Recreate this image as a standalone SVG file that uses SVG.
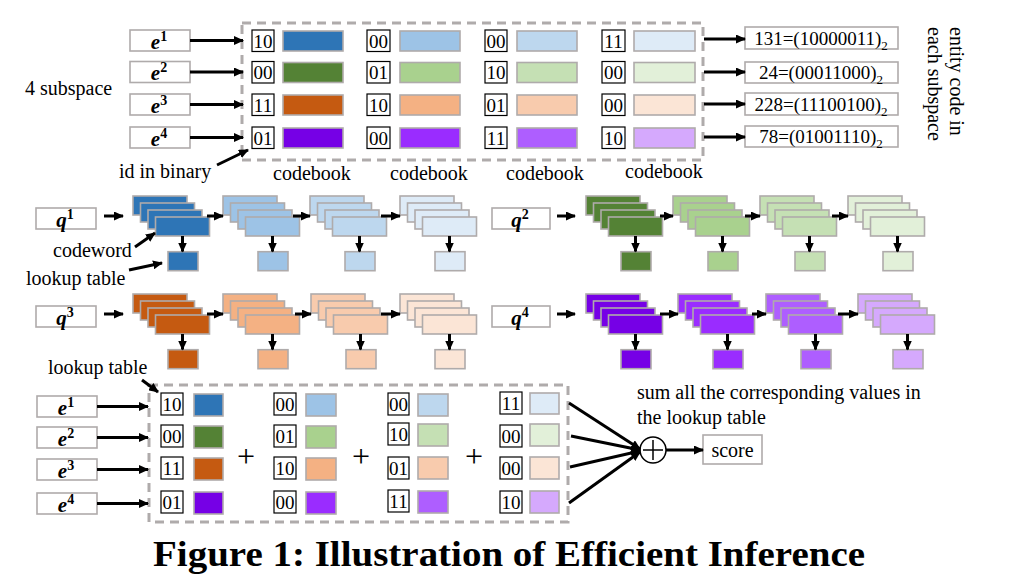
<svg xmlns="http://www.w3.org/2000/svg" xmlns:xlink="http://www.w3.org/1999/xlink" width="1021" height="574" viewBox="0 0 1021 574">
<style>
.t{font-family:"Liberation Serif",serif;font-size:20px;fill:#000}
.n{font-family:"Liberation Serif",serif;font-size:19px;fill:#000;text-anchor:middle}
.plus{font-family:"Liberation Serif",serif;font-size:32px;fill:#000;text-anchor:middle}
.v{font-family:"Liberation Serif",serif;font-weight:bold;font-style:italic;font-size:21px;fill:#000;text-anchor:middle}
.box{fill:#fff;stroke:#AFABAB;stroke-width:1.6}
.id{fill:#fff;stroke:#000;stroke-width:1.2}
.cell{stroke:#AFABAB;stroke-width:1.6}
.dash{fill:none;stroke:#AFABAB;stroke-width:3;stroke-dasharray:9 6}
.arr{stroke:#000;stroke-width:3;fill:none;marker-end:url(#ah)}
.b1{fill:#2E75B6}.b2{fill:#9DC3E6}.b3{fill:#BDD7EE}.b4{fill:#DEEBF7}
.g1{fill:#548235}.g2{fill:#A9D18E}.g3{fill:#C5E0B4}.g4{fill:#E2F0D9}
.o1{fill:#C55A11}.o2{fill:#F4B183}.o3{fill:#F8CBAD}.o4{fill:#FBE5D6}
.p1{fill:#7600E6}.p2{fill:#9A2CFF}.p3{fill:#AE5EFF}.p4{fill:#D5A9FD}
</style>
<defs>
<marker id="ah" markerUnits="userSpaceOnUse" markerWidth="10" markerHeight="9" refX="9" refY="4.5" orient="auto"><path d="M0,0 L10,4.5 L0,9 z" fill="#000"/></marker>
<g id="stk">
<rect class="cell" x="0" y="0" width="54" height="19"/>
<rect class="cell" x="7.5" y="7" width="54" height="19"/>
<rect class="cell" x="15" y="14" width="54" height="19"/>
<rect class="cell" x="22.5" y="21" width="54" height="19"/>
<rect class="cell" x="35" y="55.7" width="30" height="19"/>
</g>
</defs>
<rect width="1021" height="574" fill="#fff"/>

<!-- top section -->
<g id="top-entities">
<rect class="box" x="130" y="30" width="60" height="21"/>
<text class="v" x="159" y="48.5">e<tspan font-size="14" font-style="normal" dy="-8">1</tspan></text>
<rect class="box" x="130" y="61.5" width="60" height="21"/>
<text class="v" x="159" y="80">e<tspan font-size="14" font-style="normal" dy="-8">2</tspan></text>
<rect class="box" x="130" y="94" width="60" height="21"/>
<text class="v" x="159" y="112.5">e<tspan font-size="14" font-style="normal" dy="-8">3</tspan></text>
<rect class="box" x="130" y="127" width="60" height="21"/>
<text class="v" x="159" y="145.5">e<tspan font-size="14" font-style="normal" dy="-8">4</tspan></text>
<text class="t" x="25" y="95">4 subspace</text>
<text class="t" x="119" y="178">id in binary</text>
</g>

<g id="top-codebook">
<rect class="dash" x="242" y="23" width="461" height="137"/>
<!-- col 1 -->
<rect class="id" x="252" y="30" width="22" height="21.5"/><text class="n" x="263" y="47.5">10</text>
<rect class="cell b1" x="283" y="31" width="60" height="20"/>
<rect class="id" x="252" y="61.5" width="22" height="21.5"/><text class="n" x="263" y="79">00</text>
<rect class="cell g1" x="283" y="62.5" width="60" height="20"/>
<rect class="id" x="252" y="94" width="22" height="21.5"/><text class="n" x="263" y="111.5">11</text>
<rect class="cell o1" x="283" y="95" width="60" height="20"/>
<rect class="id" x="252" y="127" width="22" height="21.5"/><text class="n" x="263" y="144.5">01</text>
<rect class="cell p1" x="283" y="128" width="60" height="20"/>
<!-- col 2 -->
<rect class="id" x="367" y="30" width="23" height="21.5"/><text class="n" x="378.5" y="47.5">00</text>
<rect class="cell b2" x="400" y="31" width="60" height="20"/>
<rect class="id" x="367" y="61.5" width="23" height="21.5"/><text class="n" x="378.5" y="79">01</text>
<rect class="cell g2" x="400" y="62.5" width="60" height="20"/>
<rect class="id" x="367" y="94" width="23" height="21.5"/><text class="n" x="378.5" y="111.5">10</text>
<rect class="cell o2" x="400" y="95" width="60" height="20"/>
<rect class="id" x="367" y="127" width="23" height="21.5"/><text class="n" x="378.5" y="144.5">00</text>
<rect class="cell p2" x="400" y="128" width="60" height="20"/>
<!-- col 3 -->
<rect class="id" x="485" y="30" width="22" height="21.5"/><text class="n" x="496" y="47.5">00</text>
<rect class="cell b3" x="517" y="31" width="60" height="20"/>
<rect class="id" x="485" y="61.5" width="22" height="21.5"/><text class="n" x="496" y="79">10</text>
<rect class="cell g3" x="517" y="62.5" width="60" height="20"/>
<rect class="id" x="485" y="94" width="22" height="21.5"/><text class="n" x="496" y="111.5">01</text>
<rect class="cell o3" x="517" y="95" width="60" height="20"/>
<rect class="id" x="485" y="127" width="22" height="21.5"/><text class="n" x="496" y="144.5">11</text>
<rect class="cell p3" x="517" y="128" width="60" height="20"/>
<!-- col 4 -->
<rect class="id" x="602" y="30" width="23" height="21.5"/><text class="n" x="613.5" y="47.5">11</text>
<rect class="cell b4" x="634" y="31" width="61" height="20"/>
<rect class="id" x="602" y="61.5" width="23" height="21.5"/><text class="n" x="613.5" y="79">00</text>
<rect class="cell g4" x="634" y="62.5" width="61" height="20"/>
<rect class="id" x="602" y="94" width="23" height="21.5"/><text class="n" x="613.5" y="111.5">00</text>
<rect class="cell o4" x="634" y="95" width="61" height="20"/>
<rect class="id" x="602" y="127" width="23" height="21.5"/><text class="n" x="613.5" y="144.5">10</text>
<rect class="cell p4" x="634" y="128" width="61" height="20"/>
<text class="t" x="312" y="180" text-anchor="middle">codebook</text>
<text class="t" x="429" y="180" text-anchor="middle">codebook</text>
<text class="t" x="545" y="180" text-anchor="middle">codebook</text>
<text class="t" x="664" y="178" text-anchor="middle">codebook</text>
</g>

<g id="top-codes">
<rect class="box" x="745" y="27" width="153" height="22"/>
<text class="n" x="821" y="45">131=(10000011)<tspan font-size="13" dy="5">2</tspan></text>
<rect class="box" x="745" y="62" width="153" height="21"/>
<text class="n" x="821" y="79">24=(00011000)<tspan font-size="13" dy="5">2</tspan></text>
<rect class="box" x="745" y="93" width="153" height="22"/>
<text class="n" x="821" y="111">228=(11100100)<tspan font-size="13" dy="5">2</tspan></text>
<rect class="box" x="745" y="126" width="153" height="21"/>
<text class="n" x="821" y="143">78=(01001110)<tspan font-size="13" dy="5">2</tspan></text>
<text class="t" transform="translate(950,27) rotate(90)">entity code in</text>
<text class="t" transform="translate(928,27) rotate(90)">each subspace</text>
</g>

<!-- middle section -->
<g id="q1">
<rect class="box" x="36" y="208" width="60" height="21"/>
<text class="v" x="65" y="226.5">q<tspan font-size="14" font-style="normal" dy="-8">1</tspan></text>
<use xlink:href="#stk" x="133" y="196" class="b1"/>
<use xlink:href="#stk" x="223" y="196" class="b2"/>
<use xlink:href="#stk" x="310" y="196" class="b3"/>
<use xlink:href="#stk" x="400" y="196" class="b4"/>
<text class="t" x="53" y="257">codeword</text>
<text class="t" x="26" y="285">lookup table</text>
</g>
<g id="q2">
<rect class="box" x="492" y="208" width="58" height="21"/>
<text class="v" x="520" y="226.5">q<tspan font-size="14" font-style="normal" dy="-8">2</tspan></text>
<use xlink:href="#stk" x="586" y="196" class="g1"/>
<use xlink:href="#stk" x="673" y="196" class="g2"/>
<use xlink:href="#stk" x="760" y="196" class="g3"/>
<use xlink:href="#stk" x="848" y="196" class="g4"/>
</g>
<g id="q3">
<rect class="box" x="36" y="306" width="60" height="21"/>
<text class="v" x="65" y="324.5">q<tspan font-size="14" font-style="normal" dy="-8">3</tspan></text>
<use xlink:href="#stk" x="133" y="294" class="o1"/>
<use xlink:href="#stk" x="223" y="294" class="o2"/>
<use xlink:href="#stk" x="311" y="294" class="o3"/>
<use xlink:href="#stk" x="400" y="294" class="o4"/>
</g>
<g id="q4">
<rect class="box" x="492" y="306" width="58" height="21"/>
<text class="v" x="520" y="324.5">q<tspan font-size="14" font-style="normal" dy="-8">4</tspan></text>
<use xlink:href="#stk" x="586" y="294" class="p1"/>
<use xlink:href="#stk" x="678" y="294" class="p2"/>
<use xlink:href="#stk" x="766" y="294" class="p3"/>
<use xlink:href="#stk" x="858" y="294" class="p4"/>
</g>

<!-- bottom section -->
<g id="bottom-entities">
<rect class="box" x="37" y="396" width="60" height="21"/>
<text class="v" x="66" y="414.5">e<tspan font-size="14" font-style="normal" dy="-8">1</tspan></text>
<rect class="box" x="37" y="427" width="60" height="21"/>
<text class="v" x="66" y="445.5">e<tspan font-size="14" font-style="normal" dy="-8">2</tspan></text>
<rect class="box" x="37" y="459" width="60" height="21"/>
<text class="v" x="66" y="477.5">e<tspan font-size="14" font-style="normal" dy="-8">3</tspan></text>
<rect class="box" x="37" y="493" width="60" height="21"/>
<text class="v" x="66" y="511.5">e<tspan font-size="14" font-style="normal" dy="-8">4</tspan></text>
<text class="t" x="48" y="374">lookup table</text>
</g>

<g id="bottom-table">
<rect class="dash" x="149" y="385" width="419" height="137"/>
<!-- col 1 -->
<rect class="id" x="161" y="393" width="22" height="22"/><text class="n" x="172" y="411">10</text>
<rect class="cell b1" x="194" y="394" width="29" height="22"/>
<rect class="id" x="161" y="425" width="22" height="22"/><text class="n" x="172" y="443">00</text>
<rect class="cell g1" x="194" y="426" width="29" height="22"/>
<rect class="id" x="161" y="457" width="22" height="22"/><text class="n" x="172" y="475">11</text>
<rect class="cell o1" x="194" y="458" width="29" height="22"/>
<rect class="id" x="161" y="491" width="22" height="22"/><text class="n" x="172" y="509">01</text>
<rect class="cell p1" x="194" y="492" width="29" height="22"/>
<!-- col 2 -->
<rect class="id" x="274" y="393" width="22" height="22"/><text class="n" x="285" y="411">00</text>
<rect class="cell b2" x="306" y="394" width="30" height="22"/>
<rect class="id" x="274" y="425" width="22" height="22"/><text class="n" x="285" y="443">01</text>
<rect class="cell g2" x="306" y="426" width="30" height="22"/>
<rect class="id" x="274" y="457" width="22" height="22"/><text class="n" x="285" y="475">10</text>
<rect class="cell o2" x="306" y="458" width="30" height="22"/>
<rect class="id" x="274" y="491" width="22" height="22"/><text class="n" x="285" y="509">00</text>
<rect class="cell p2" x="306" y="492" width="30" height="22"/>
<!-- col 3 -->
<rect class="id" x="388" y="393" width="21" height="22"/><text class="n" x="398.5" y="411">00</text>
<rect class="cell b3" x="418" y="394" width="30" height="22"/>
<rect class="id" x="388" y="423" width="21" height="22"/><text class="n" x="398.5" y="441">10</text>
<rect class="cell g3" x="418" y="424" width="30" height="22"/>
<rect class="id" x="388" y="457" width="21" height="22"/><text class="n" x="398.5" y="475">01</text>
<rect class="cell o3" x="418" y="457" width="30" height="22"/>
<rect class="id" x="388" y="490" width="21" height="22"/><text class="n" x="398.5" y="508">11</text>
<rect class="cell p3" x="418" y="491" width="30" height="22"/>
<!-- col 4 -->
<rect class="id" x="500" y="392" width="22" height="22"/><text class="n" x="511" y="410">11</text>
<rect class="cell b4" x="530" y="393" width="29" height="21"/>
<rect class="id" x="500" y="425" width="22" height="22"/><text class="n" x="511" y="443">00</text>
<rect class="cell g4" x="530" y="424" width="29" height="22"/>
<rect class="id" x="500" y="457" width="22" height="22"/><text class="n" x="511" y="475">00</text>
<rect class="cell o4" x="530" y="457" width="29" height="22"/>
<rect class="id" x="500" y="491" width="22" height="22"/><text class="n" x="511" y="509">10</text>
<rect class="cell p4" x="530" y="491" width="29" height="22"/>
<text class="plus" x="246" y="467">+</text>
<text class="plus" x="361" y="467">+</text>
<text class="plus" x="474" y="467">+</text>
</g>

<g id="sum">
<circle cx="653" cy="450" r="13" fill="#fff" stroke="#000" stroke-width="1.5"/>
<line x1="643" y1="450" x2="663" y2="450" stroke="#000" stroke-width="1.5"/>
<line x1="653" y1="440" x2="653" y2="460" stroke="#000" stroke-width="1.5"/>
<text class="t" x="637" y="399">sum all the corresponding values in</text>
<text class="t" x="637" y="424">the lookup table</text>
</g>
<g id="score">
<rect class="box" x="703" y="435" width="59" height="29"/>
<text class="t" x="732.5" y="457" text-anchor="middle">score</text>
</g>

<g id="connectors">
<!-- top -->
<line class="arr" x1="190" y1="40.5" x2="243" y2="40.5"/>
<line class="arr" x1="190" y1="72" x2="243" y2="72"/>
<line class="arr" x1="190" y1="104.5" x2="243" y2="104.5"/>
<line class="arr" x1="190" y1="137.5" x2="243" y2="137.5"/>
<line class="arr" x1="217" y1="165" x2="248" y2="150"/>
<line class="arr" x1="704" y1="39" x2="745" y2="39"/>
<line class="arr" x1="704" y1="72" x2="745" y2="72"/>
<line class="arr" x1="704" y1="104" x2="745" y2="104"/>
<line class="arr" x1="704" y1="137" x2="745" y2="137"/>
<!-- row A left -->
<line class="arr" x1="104" y1="216" x2="123" y2="216"/>
<line class="arr" x1="207" y1="216" x2="223" y2="216"/>
<line class="arr" x1="293" y1="216" x2="310" y2="216"/>
<line class="arr" x1="381" y1="216" x2="400" y2="216"/>
<line class="arr" x1="182.5" y1="236" x2="182.5" y2="251.5"/>
<line class="arr" x1="272.5" y1="236" x2="272.5" y2="251.5"/>
<line class="arr" x1="359.5" y1="236" x2="359.5" y2="251.5"/>
<line class="arr" x1="449.5" y1="236" x2="449.5" y2="251.5"/>
<line class="arr" x1="135" y1="247" x2="155" y2="233"/>
<line class="arr" x1="129" y1="270" x2="162" y2="263"/>
<!-- row A right -->
<line class="arr" x1="557" y1="216" x2="575" y2="216"/>
<line class="arr" x1="660" y1="216" x2="673" y2="216"/>
<line class="arr" x1="745" y1="216" x2="760" y2="216"/>
<line class="arr" x1="832" y1="216" x2="848" y2="216"/>
<line class="arr" x1="635.5" y1="236" x2="635.5" y2="251.5"/>
<line class="arr" x1="722.5" y1="236" x2="722.5" y2="251.5"/>
<line class="arr" x1="809.5" y1="236" x2="809.5" y2="251.5"/>
<line class="arr" x1="897.5" y1="236" x2="897.5" y2="251.5"/>
<!-- row B left -->
<line class="arr" x1="104" y1="314" x2="123" y2="314"/>
<line class="arr" x1="207" y1="314" x2="223" y2="314"/>
<line class="arr" x1="295" y1="314" x2="311" y2="314"/>
<line class="arr" x1="381" y1="314" x2="400" y2="314"/>
<line class="arr" x1="182.5" y1="334" x2="182.5" y2="349.5"/>
<line class="arr" x1="272.5" y1="334" x2="272.5" y2="349.5"/>
<line class="arr" x1="360.5" y1="334" x2="360.5" y2="349.5"/>
<line class="arr" x1="449.5" y1="334" x2="449.5" y2="349.5"/>
<!-- row B right -->
<line class="arr" x1="557" y1="314" x2="575" y2="314"/>
<line class="arr" x1="660" y1="314" x2="678" y2="314"/>
<line class="arr" x1="752" y1="314" x2="766" y2="314"/>
<line class="arr" x1="838" y1="314" x2="858" y2="314"/>
<line class="arr" x1="635.5" y1="334" x2="635.5" y2="349.5"/>
<line class="arr" x1="727.5" y1="334" x2="727.5" y2="349.5"/>
<line class="arr" x1="815.5" y1="334" x2="815.5" y2="349.5"/>
<line class="arr" x1="907.5" y1="334" x2="907.5" y2="349.5"/>
<!-- bottom -->
<line class="arr" x1="142" y1="380" x2="158" y2="392"/>
<line class="arr" x1="97" y1="406.5" x2="148" y2="406.5"/>
<line class="arr" x1="97" y1="437.5" x2="148" y2="437.5"/>
<line class="arr" x1="97" y1="469.5" x2="148" y2="469.5"/>
<line class="arr" x1="97" y1="503.5" x2="148" y2="503.5"/>
<line class="arr" x1="569" y1="403" x2="640" y2="449"/>
<line class="arr" x1="571" y1="436" x2="640" y2="450"/>
<line class="arr" x1="570" y1="467" x2="640" y2="451"/>
<line class="arr" x1="569" y1="503" x2="640" y2="452"/>
<line class="arr" x1="666" y1="450" x2="703" y2="450"/>
</g>

<text x="153" y="566" font-family="'Liberation Serif',serif" font-weight="bold" font-size="35" textLength="712" lengthAdjust="spacingAndGlyphs" fill="#000">Figure 1: Illustration of Efficient Inference</text>
</svg>
